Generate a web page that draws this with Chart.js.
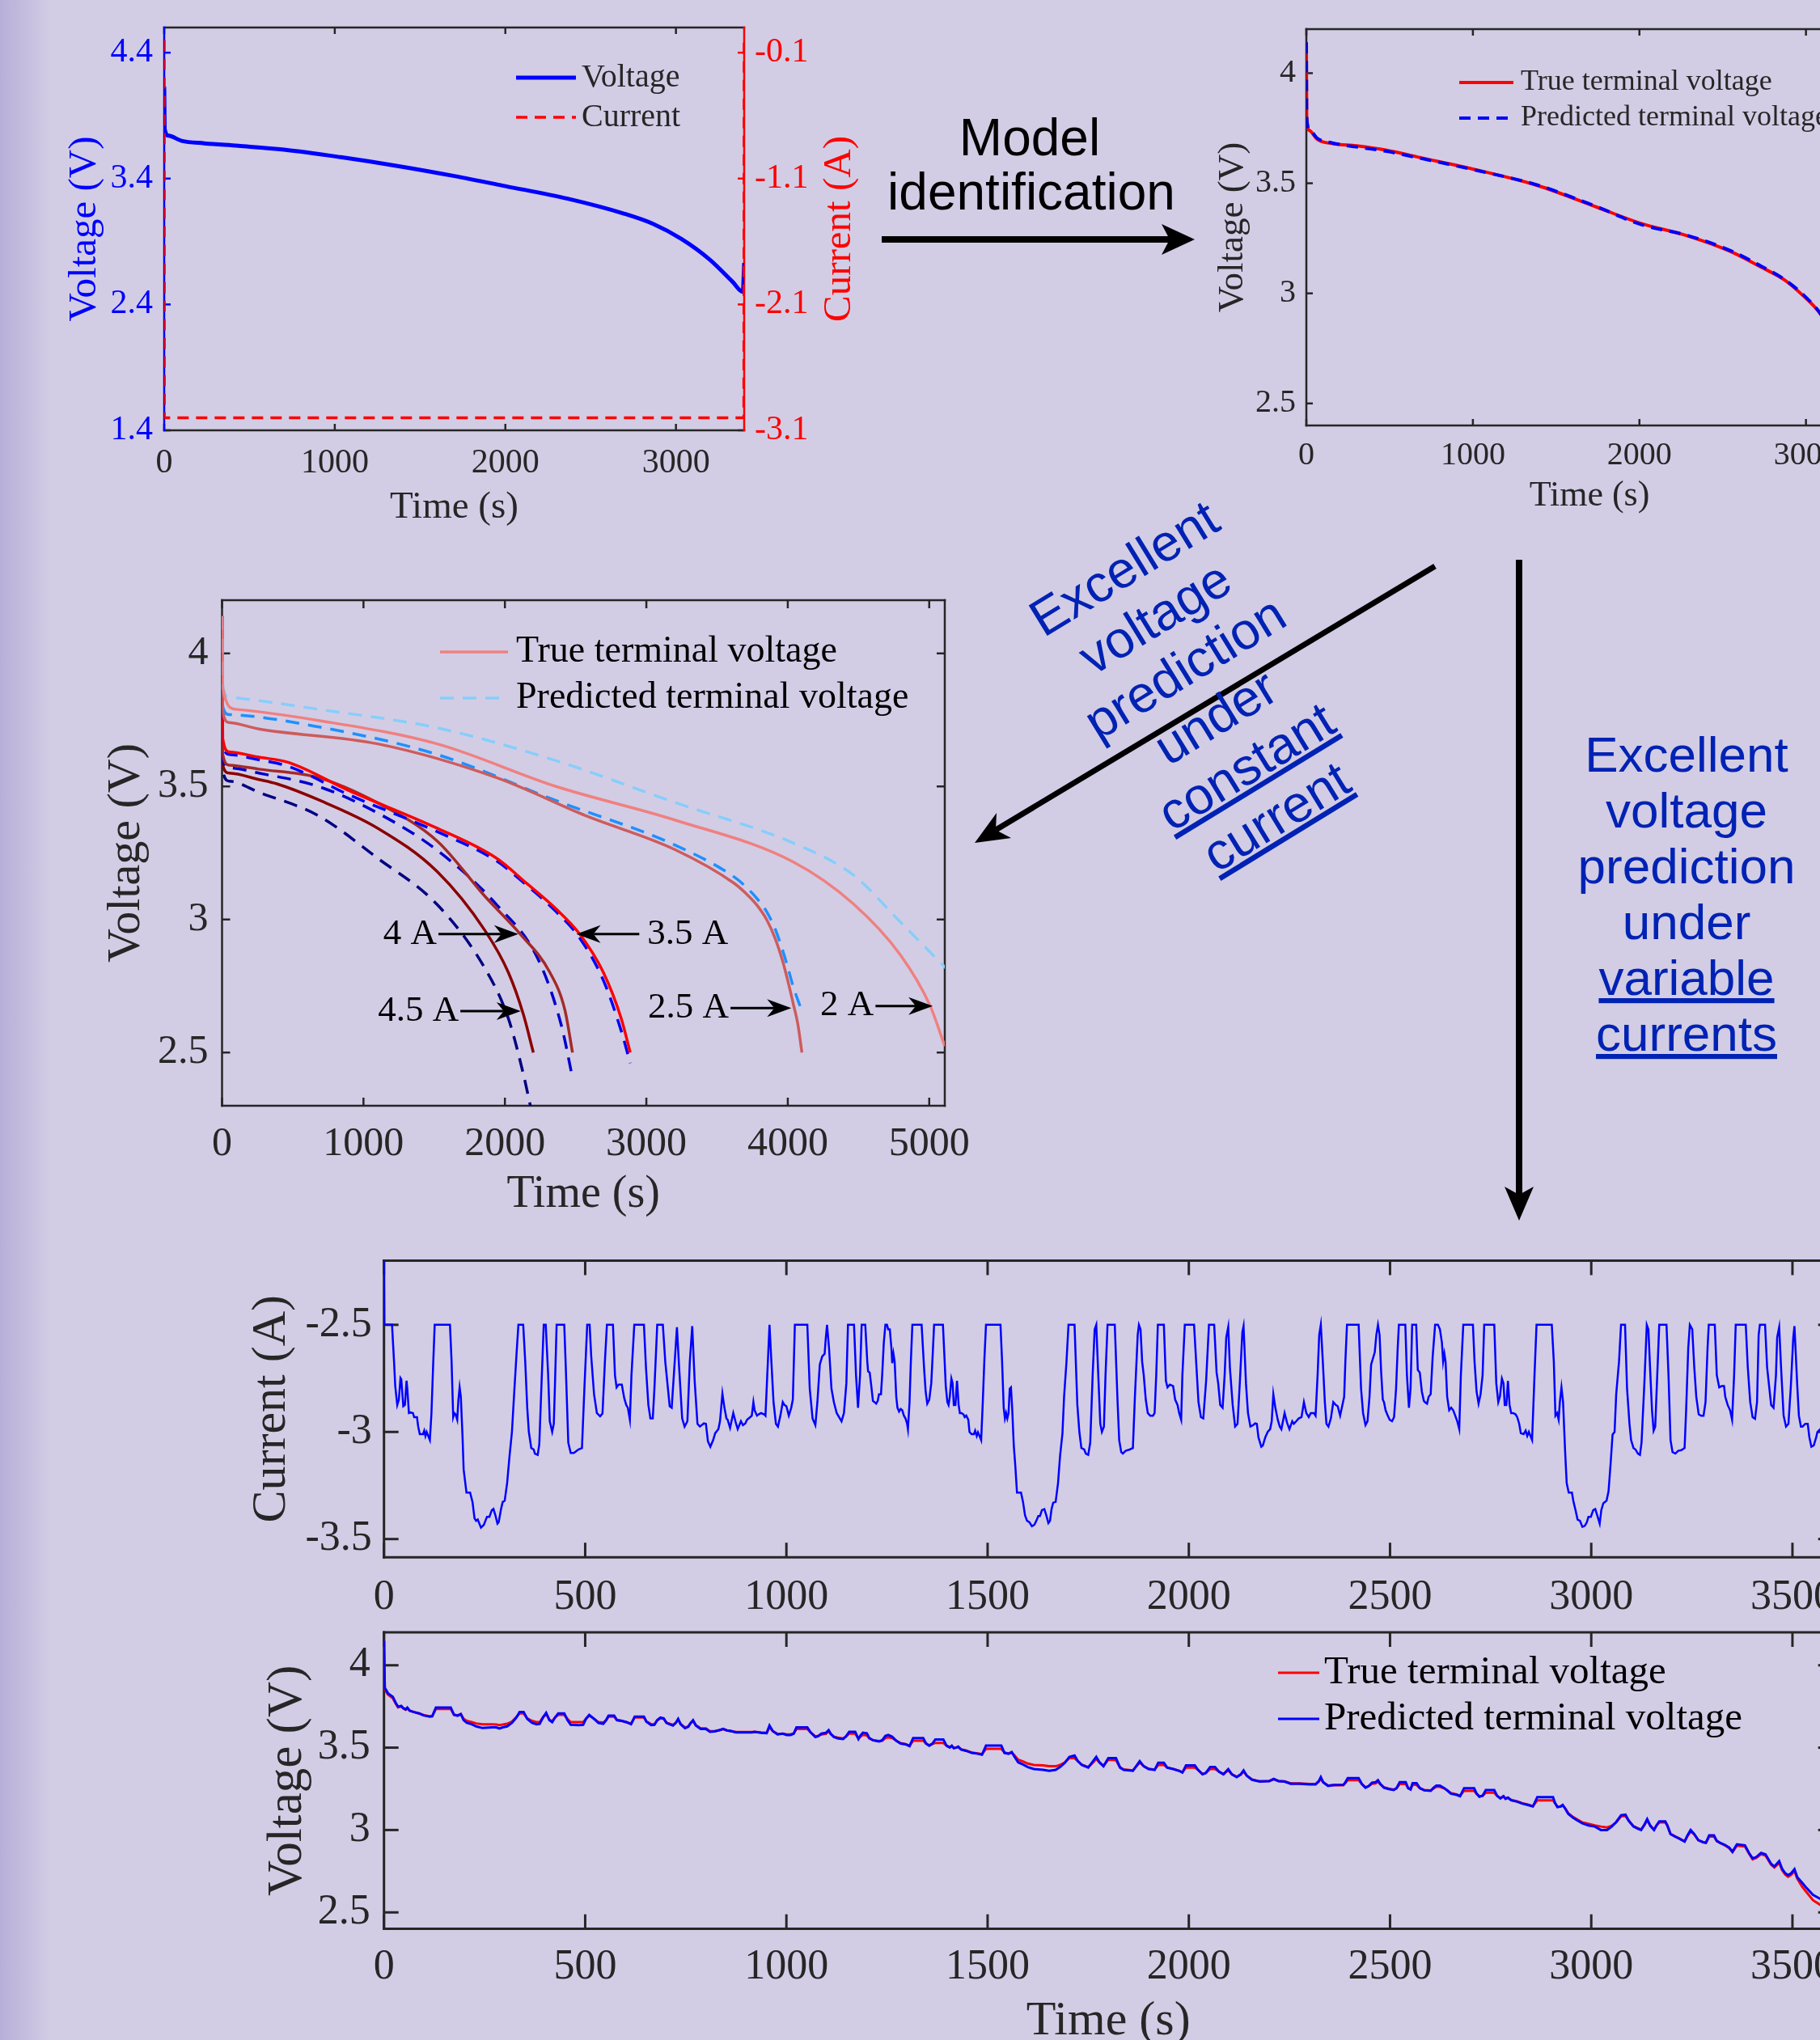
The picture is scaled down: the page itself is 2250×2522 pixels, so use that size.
<!DOCTYPE html>
<html>
<head>
<meta charset="utf-8">
<title>Battery model: identification and voltage prediction</title>
<script src="https://cdn.jsdelivr.net/npm/chart.js@4.4.1/dist/chart.umd.min.js"></script>
<style>
  html, body { margin: 0; padding: 0; width: 2250px; height: 2522px; overflow: hidden; background: #d2cde5; }
  .panel { position: absolute; }
  #strip { position: absolute; left: 0; top: 0; width: 64px; height: 2522px;
           background: linear-gradient(to right, #b8afd8, rgba(210, 205, 229, 0)); }
  #notes { position: absolute; left: 0; top: 0; }
</style>
</head>
<body>
<div id="strip"></div>
<canvas id="idChart" class="panel" width="1060" height="680" style="left:40px;top:0px"></canvas>
<canvas id="fitChart" class="panel" width="900" height="680" style="left:1440px;top:0px"></canvas>
<canvas id="ccChart" class="panel" width="1100" height="820" style="left:100px;top:700px"></canvas>
<canvas id="dynCurrentChart" class="panel" width="2000" height="470" style="left:280px;top:1530px"></canvas>
<canvas id="dynVoltChart" class="panel" width="2000" height="560" style="left:280px;top:2000px"></canvas>

<svg id="notes" width="2250" height="2522" xmlns="http://www.w3.org/2000/svg">
  <g font-family="'Liberation Sans', Arial, sans-serif" font-size="64" fill="#000" text-anchor="middle">
    <text x="1273" y="192">Model</text>
    <text x="1275" y="259">identification</text>
  </g>
  <!-- arrow: identification -> fitted model -->
  <line x1="1090" y1="296" x2="1446" y2="296" stroke="#000" stroke-width="8"/>
  <polygon points="1477,296 1436,277 1446,296 1436,315" fill="#000"/>
  <!-- arrow: towards constant current panel -->
  <line x1="1774" y1="700" x2="1231" y2="1026" stroke="#000" stroke-width="7"/>
  <polygon points="1205,1042 1250,1036 1231,1026 1232,1005" fill="#000"/>
  <!-- arrow: towards variable current panels -->
  <line x1="1878" y1="692" x2="1878" y2="1478" stroke="#000" stroke-width="8"/>
  <polygon points="1878,1509 1860,1467 1878,1477 1896,1467" fill="#000"/>

  <g font-family="'Liberation Sans', Arial, sans-serif" font-size="64" fill="#0022b4" text-anchor="middle">
    <text x="1401" y="721" transform="rotate(-31.5 1401 721)">Excellent</text>
    <text x="1439" y="782" transform="rotate(-31.5 1439 782)">voltage</text>
    <text x="1476" y="844" transform="rotate(-31.5 1476 844)">prediction</text>
    <text x="1514" y="905" transform="rotate(-31.5 1514 905)">under</text>
    <text x="1552" y="966" transform="rotate(-31.5 1552 966)" text-decoration="underline">constant</text>
    <text x="1589" y="1028" transform="rotate(-31.5 1589 1028)" text-decoration="underline">current</text>
  </g>
  <g font-family="'Liberation Sans', Arial, sans-serif" font-size="62" fill="#0022b4" text-anchor="middle">
    <text x="2085" y="954">Excellent</text>
    <text x="2085" y="1023">voltage</text>
    <text x="2085" y="1092">prediction</text>
    <text x="2085" y="1161">under</text>
    <text x="2085" y="1230" text-decoration="underline">variable</text>
    <text x="2085" y="1299" text-decoration="underline">currents</text>
  </g>
</svg>

<script>
// ---------------- data ----------------

// top left: identification test, 3 A constant discharge
const idTime = [0, 3, 27, 102, 235, 435, 702, 1035, 1368, 1701, 2000, 2365, 2699, 2866, 3032, 3199, 3332, 3392, 3400];
const idVoltage = [4.13, 3.79, 3.74, 3.70, 3.68, 3.66, 3.63, 3.57, 3.50, 3.42, 3.34, 3.24, 3.12, 3.04, 2.92, 2.755, 2.58, 2.50, 2.73];
const idCurrentTime = [0, 1, 3398, 3400];
const idCurrent = [0.0, -3.0, -3.0, 0.0];
const idLegend = ['Voltage', 'Current'];
const idTimeTicks = [0, 1000, 2000, 3000];
const idVoltTicks = [1.4, 2.4, 3.4, 4.4];
const idCurrTicks = [-3.1, -2.1, -1.1, -0.1];

// top right: fitted model on the identification test
const fitTime = [0, 2, 18, 65, 156, 301, 482, 663, 1025, 1387, 1749, 2000, 2293, 2547, 2728, 2873, 2982, 3083, 3199, 3332, 3392];
const fitTrue = [4.14, 3.80, 3.74, 3.70, 3.68, 3.67, 3.65, 3.62, 3.56, 3.49, 3.39, 3.32, 3.26, 3.19, 3.12, 3.06, 2.99, 2.91, 2.76, 2.58, 2.50];
const fitPred = [4.14, 3.80, 3.745, 3.705, 3.683, 3.665, 3.645, 3.617, 3.558, 3.492, 3.392, 3.315, 3.262, 3.194, 3.125, 3.062, 2.995, 2.912, 2.765, 2.585, 2.505];
const voltLegend = ['True terminal voltage', 'Predicted terminal voltage'];
const fitVoltTicks = [2.5, 3, 3.5, 4];

// middle: constant current discharges [time s, voltage V]
const ccLabels = ['2 A', '2.5 A', '3.5 A', '4 A', '4.5 A'];
const cc2ATrue = [[0, 4.14], [5, 3.87], [93, 3.79], [681, 3.748], [1521, 3.66], [2361, 3.5], [3201, 3.374], [4040, 3.216], [4461, 3.06], [4797, 2.866], [5007, 2.675], [5110, 2.524]];
const cc2APred = [[0, 4.14], [5, 3.88], [51, 3.836], [681, 3.79], [1521, 3.72], [2361, 3.597], [3201, 3.44], [4040, 3.287], [4461, 3.168], [4797, 2.99], [5116, 2.818]];
const cc25True = [[0, 4.14], [5, 3.78], [51, 3.74], [261, 3.716], [1101, 3.66], [1941, 3.533], [2571, 3.39], [3201, 3.263], [3621, 3.136], [3700, 3.1], [3780, 3.055], [3850, 3.0], [3910, 2.93], [3960, 2.85], [4000, 2.77], [4040, 2.68], [4070, 2.61], [4100, 2.5]];
const cc25Pred = [[0, 4.14], [5, 3.8], [51, 3.77], [681, 3.724], [1521, 3.62], [2361, 3.447], [3201, 3.28], [3621, 3.16], [3700, 3.125], [3780, 3.08], [3850, 3.03], [3910, 2.965], [3960, 2.89], [4000, 2.82], [4040, 2.745], [4090, 2.67]];
const cc35True = [[0, 4.14], [5, 3.68], [51, 3.63], [261, 3.61], [471, 3.59], [891, 3.486], [1521, 3.343], [1941, 3.23], [2151, 3.137], [2361, 3.04], [2529, 2.945], [2697, 2.8], [2823, 2.627], [2886, 2.5]];
const cc35Pred = [[0, 4.14], [5, 3.66], [51, 3.62], [261, 3.6], [471, 3.575], [891, 3.47], [1521, 3.33], [1941, 3.22], [2151, 3.13], [2361, 3.03], [2529, 2.93], [2697, 2.77], [2823, 2.58], [2886, 2.46]];
const cc4True = [[0, 4.14], [5, 3.62], [51, 3.58], [261, 3.565], [681, 3.533], [1101, 3.438], [1521, 3.295], [1857, 3.088], [2109, 2.945], [2319, 2.8], [2424, 2.66], [2478, 2.5]];
const cc4Pred = [[0, 4.14], [5, 3.6], [51, 3.57], [261, 3.55], [681, 3.5], [1101, 3.4], [1521, 3.26], [1941, 3.056], [2235, 2.85], [2400, 2.6], [2478, 2.405]];
const cc45True = [[0, 4.14], [5, 3.58], [51, 3.55], [261, 3.526], [387, 3.51], [681, 3.45], [1101, 3.343], [1521, 3.18], [1857, 2.96], [2025, 2.8], [2130, 2.644], [2201, 2.5]];
const cc45Pred = [[0, 4.14], [5, 3.56], [51, 3.52], [261, 3.478], [681, 3.39], [1101, 3.23], [1521, 3.056], [1857, 2.818], [2025, 2.627], [2130, 2.42], [2180, 2.3]];
const ccTimeTicks = [0, 1000, 2000, 3000, 4000, 5000];
const ccVoltTicks = [2.5, 3, 3.5, 4];

// bottom: dynamic (variable current) test, current [time s, current A]
const dynCurrent = [
  [0, -2.2], [1, -2.5], [20, -2.5], [25, -2.672], [28, -2.786], [33, -2.874], [37, -2.849], [41, -2.748], [43, -2.754], [48, -2.88],
  [52, -2.874], [56, -2.761], [58, -2.798], [62, -2.912], [66, -2.909], [72, -2.912], [75, -2.931], [82, -2.931], [85, -2.975], [89, -3.01],
  [97, -3.01], [100, -2.994], [103, -3.019], [106, -3.0], [110, -3.019], [114, -3.038], [118, -2.912], [122, -2.698], [126, -2.5], [164, -2.5],
  [168, -2.672], [172, -2.931], [175, -2.912], [178, -2.918], [182, -2.943], [185, -2.849], [188, -2.792], [191, -2.836], [195, -3.012], [198, -3.176],
  [205, -3.283], [214, -3.283], [220, -3.327], [225, -3.403], [229, -3.415], [233, -3.409], [241, -3.447], [248, -3.434], [256, -3.396], [262, -3.396],
  [268, -3.365], [272, -3.359], [277, -3.39], [282, -3.428], [285, -3.422], [291, -3.359], [295, -3.327], [300, -3.321], [306, -3.239], [312, -3.113],
  [318, -3.0], [323, -2.836], [329, -2.647], [334, -2.5], [346, -2.5], [351, -2.672], [356, -2.887], [360, -3.0], [366, -3.075], [372, -3.082],
  [375, -3.101], [382, -3.107], [386, -3.056], [391, -2.798], [397, -2.5], [402, -2.5], [408, -2.735], [412, -2.95], [418, -3.0], [422, -2.962],
  [425, -2.773], [429, -2.5], [448, -2.5], [452, -2.71], [458, -3.05], [464, -3.098], [472, -3.098], [483, -3.082], [492, -3.075], [498, -2.798],
  [505, -2.5], [511, -2.5], [515, -2.647], [522, -2.824], [529, -2.912], [537, -2.927], [543, -2.914], [549, -2.672], [554, -2.5], [569, -2.5],
  [574, -2.735], [578, -2.792], [583, -2.779], [591, -2.779], [597, -2.842], [602, -2.874], [606, -2.887], [611, -2.943], [615, -2.735], [622, -2.5],
  [646, -2.5], [651, -2.698], [657, -2.874], [662, -2.937], [668, -2.937], [672, -2.798], [679, -2.5], [693, -2.5], [699, -2.672], [705, -2.786],
  [710, -2.88], [715, -2.887], [722, -2.685], [728, -2.511], [733, -2.685], [741, -2.937], [747, -2.975], [754, -2.95], [760, -2.672], [766, -2.506],
  [772, -2.761], [779, -2.962], [785, -2.975], [795, -2.96], [800, -2.962], [805, -3.044], [811, -3.069], [818, -3.038], [823, -3.006], [831, -2.987],
  [835, -2.95], [841, -2.821], [846, -2.887], [851, -2.937], [854, -2.943], [860, -2.981], [868, -2.912], [875, -2.962], [879, -2.987], [887, -2.95],
  [892, -2.968], [898, -2.96], [902, -2.943], [910, -2.931], [914, -2.924], [918, -2.861], [921, -2.899], [927, -2.924], [931, -2.918], [937, -2.912],
  [945, -2.918], [948, -2.924], [958, -2.5], [962, -2.647], [968, -2.861], [974, -2.962], [979, -2.975], [985, -2.924], [991, -2.861], [995, -2.874],
  [1000, -2.88], [1006, -2.924], [1012, -2.887], [1016, -2.849], [1021, -2.5], [1052, -2.5], [1058, -2.798], [1065, -2.937], [1072, -2.968], [1077, -2.861],
  [1083, -2.685], [1089, -2.647], [1095, -2.635], [1098, -2.559], [1101, -2.5], [1106, -2.61], [1112, -2.798], [1118, -2.861], [1125, -2.912], [1137, -2.95],
  [1143, -2.912], [1149, -2.773], [1153, -2.5], [1168, -2.5], [1173, -2.735], [1178, -2.887], [1183, -2.735], [1187, -2.5],
  [1196, -2.5], [1201, -2.672], [1203, -2.717], [1207, -2.723], [1211, -2.786], [1215, -2.855], [1219, -2.861], [1223, -2.868], [1227, -2.855], [1230, -2.824],
  [1235, -2.824], [1238, -2.735], [1242, -2.584], [1246, -2.5], [1250, -2.5], [1253, -2.521], [1257, -2.521], [1261, -2.61], [1263, -2.679], [1266, -2.635],
  [1269, -2.672], [1273, -2.836], [1276, -2.887], [1280, -2.905], [1284, -2.893], [1288, -2.899], [1292, -2.924], [1296, -2.937], [1300, -2.962], [1302, -2.987],
  [1306, -2.861], [1309, -2.685], [1313, -2.5], [1336, -2.5], [1342, -2.698], [1346, -2.811], [1350, -2.868], [1355, -2.849], [1360, -2.773], [1363, -2.66],
  [1367, -2.5], [1389, -2.5], [1393, -2.66], [1396, -2.786], [1400, -2.861], [1403, -2.874], [1406, -2.836], [1410, -2.751], [1413, -2.773], [1416, -2.874],
  [1420, -2.874], [1424, -2.761], [1428, -2.874], [1431, -2.912], [1435, -2.912], [1440, -2.918], [1443, -2.931], [1447, -2.924], [1452, -2.943], [1455, -3.0],
  [1460, -3.01], [1466, -3.01], [1469, -2.994], [1473, -3.019], [1476, -3.002], [1480, -3.019], [1484, -3.038], [1488, -2.861], [1492, -2.66], [1496, -2.5],
  [1532, -2.5], [1536, -2.672], [1540, -2.887], [1543, -2.937], [1546, -2.912], [1549, -2.937], [1552, -2.912], [1555, -2.798], [1558, -2.792], [1561, -2.887],
  [1565, -3.063], [1569, -3.163], [1573, -3.283], [1583, -3.283], [1588, -3.327], [1593, -3.39], [1598, -3.415], [1604, -3.422], [1610, -3.44], [1616, -3.434],
  [1621, -3.415], [1626, -3.393], [1630, -3.393], [1635, -3.365], [1641, -3.36], [1646, -3.39], [1651, -3.425], [1655, -3.415], [1659, -3.359], [1663, -3.33],
  [1669, -3.327], [1675, -3.239], [1680, -3.113], [1686, -3.006], [1690, -2.836], [1696, -2.672], [1701, -2.5], [1716, -2.5], [1723, -2.874], [1728, -3.0],
  [1733, -3.075], [1740, -3.082], [1744, -3.101], [1750, -3.107], [1755, -3.05], [1761, -2.735], [1766, -2.521], [1770, -2.5], [1775, -2.735], [1780, -2.962],
  [1784, -3.0], [1789, -2.975], [1793, -2.735], [1798, -2.5], [1816, -2.5], [1823, -2.861], [1827, -3.038], [1832, -3.094], [1836, -3.101], [1843, -3.088],
  [1853, -3.082], [1861, -3.075], [1866, -2.836], [1873, -2.547], [1876, -2.5], [1880, -2.521], [1884, -2.672], [1888, -2.735], [1893, -2.849], [1898, -2.912],
  [1904, -2.924], [1911, -2.924], [1915, -2.912], [1919, -2.735], [1923, -2.5], [1938, -2.5], [1943, -2.761], [1947, -2.792], [1953, -2.779], [1961, -2.786],
  [1966, -2.849], [1972, -2.874], [1976, -2.912], [1981, -2.943], [1984, -2.735], [1990, -2.5], [2013, -2.5], [2019, -2.698], [2024, -2.861], [2030, -2.931],
  [2036, -2.937], [2043, -2.761], [2050, -2.5], [2063, -2.5], [2069, -2.723], [2073, -2.773], [2078, -2.874], [2084, -2.887], [2089, -2.735], [2093, -2.559],
  [2098, -2.509], [2102, -2.698], [2109, -2.874], [2115, -2.975], [2121, -2.962], [2127, -2.761], [2133, -2.534], [2136, -2.506], [2142, -2.773], [2147, -2.912],
  [2153, -2.975], [2160, -2.968], [2165, -2.96], [2169, -2.962], [2173, -3.025], [2180, -3.069], [2184, -3.063], [2190, -3.025], [2196, -3.0], [2202, -2.987],
  [2206, -2.95], [2210, -2.824], [2215, -2.887], [2221, -2.943], [2226, -2.975], [2230, -2.987], [2238, -2.912], [2244, -2.956], [2250, -2.987], [2257, -2.95],
  [2261, -2.962], [2267, -2.95], [2273, -2.937], [2280, -2.931], [2286, -2.861], [2292, -2.912], [2298, -2.931], [2303, -2.912], [2311, -2.912], [2315, -2.924],
  [2320, -2.735], [2324, -2.547], [2328, -2.5], [2333, -2.672], [2338, -2.861], [2342, -2.962], [2347, -2.975], [2353, -2.937], [2359, -2.861], [2365, -2.874],
  [2370, -2.88], [2376, -2.924],
  [2386, -2.836], [2389, -2.672], [2393, -2.5], [2422, -2.5], [2428, -2.798], [2433, -2.912], [2439, -2.968], [2444, -2.95], [2449, -2.836], [2453, -2.685],
  [2459, -2.647], [2462, -2.628], [2466, -2.547], [2470, -2.5], [2474, -2.547], [2478, -2.723], [2482, -2.849], [2485, -2.861], [2489, -2.899], [2493, -2.918],
  [2499, -2.943], [2505, -2.95], [2510, -2.931], [2515, -2.798], [2519, -2.61], [2522, -2.5], [2538, -2.5], [2542, -2.735], [2547, -2.887], [2551, -2.798],
  [2555, -2.5], [2565, -2.5], [2569, -2.71], [2574, -2.723], [2579, -2.811], [2584, -2.855], [2587, -2.861], [2592, -2.868], [2596, -2.836], [2601, -2.824],
  [2606, -2.647], [2612, -2.5], [2619, -2.5], [2624, -2.521], [2629, -2.584], [2632, -2.672], [2635, -2.635], [2638, -2.672], [2642, -2.836], [2647, -2.899],
  [2652, -2.887], [2657, -2.899], [2662, -2.924], [2667, -2.95], [2672, -2.987], [2676, -2.735], [2682, -2.5], [2706, -2.5], [2710, -2.672], [2715, -2.811],
  [2720, -2.868], [2725, -2.824], [2730, -2.735], [2734, -2.5], [2759, -2.5], [2764, -2.773], [2769, -2.861], [2773, -2.836], [2778, -2.751], [2782, -2.773],
  [2785, -2.874], [2789, -2.874], [2793, -2.761], [2797, -2.874], [2801, -2.912], [2806, -2.912], [2812, -2.918], [2816, -2.931], [2821, -2.962], [2825, -3.006],
  [2832, -3.01], [2837, -2.994], [2841, -3.019], [2845, -3.0], [2849, -3.019], [2853, -3.038], [2859, -2.735], [2864, -2.5], [2902, -2.5], [2907, -2.672],
  [2911, -2.924], [2915, -2.912], [2919, -2.943], [2922, -2.861], [2926, -2.792], [2930, -2.861], [2935, -3.088], [2939, -3.239], [2944, -3.283], [2952, -3.283],
  [2956, -3.327], [2961, -3.365], [2966, -3.409], [2972, -3.415], [2978, -3.443], [2984, -3.438], [2989, -3.422], [2993, -3.396], [2999, -3.396], [3005, -3.365],
  [3010, -3.36], [3015, -3.39], [3021, -3.428], [3025, -3.365], [3030, -3.333], [3038, -3.321], [3043, -3.277], [3048, -3.151], [3053, -3.012], [3058, -3.0],
  [3062, -2.824], [3069, -2.672], [3074, -2.5], [3084, -2.5], [3089, -2.798], [3095, -2.962], [3099, -3.038], [3105, -3.075], [3110, -3.082], [3116, -3.101],
  [3121, -3.107], [3125, -3.05], [3132, -2.773], [3138, -2.5], [3142, -2.521], [3147, -2.735], [3151, -2.899], [3155, -2.994], [3159, -2.975], [3164, -2.735],
  [3169, -2.5], [3187, -2.5], [3192, -2.735], [3197, -3.038], [3202, -3.094], [3209, -3.101], [3216, -3.088], [3224, -3.085], [3232, -3.075], [3236, -2.887],
  [3241, -2.61], [3245, -2.5], [3251, -2.521], [3256, -2.698], [3261, -2.836], [3267, -2.918], [3273, -2.924], [3279, -2.924], [3284, -2.861], [3289, -2.61],
  [3292, -2.5], [3307, -2.5], [3312, -2.735], [3318, -2.792], [3324, -2.786], [3330, -2.786], [3333, -2.836], [3339, -2.874], [3345, -2.899], [3350, -2.943],
  [3355, -2.735], [3359, -2.5], [3384, -2.5], [3389, -2.698], [3395, -2.861], [3401, -2.931], [3407, -2.939], [3412, -2.861], [3416, -2.547], [3419, -2.5],
  [3432, -2.5], [3437, -2.698], [3442, -2.786], [3447, -2.874], [3453, -2.887], [3459, -2.735], [3462, -2.559], [3467, -2.511], [3472, -2.71], [3478, -2.924],
  [3484, -2.975], [3490, -2.962], [3496, -2.786], [3502, -2.559], [3505, -2.506], [3512, -2.786], [3516, -2.924], [3521, -2.975], [3525, -2.975], [3532, -2.962],
  [3538, -2.962], [3542, -3.025], [3547, -3.069], [3553, -3.063], [3559, -3.025], [3562, -3.0], [3569, -2.987], [3590, -2.95]
];
const dynCurrTicks = [-3.5, -3, -2.5];
const dynTimeTicks = [0, 500, 1000, 1500, 2000, 2500, 3000, 3500];

// bottom: dynamic test, terminal voltage (rows of ten share the same times)
const dynVoltTime = [
  0, 2, 10, 22, 29, 35, 43, 48, 54, 58,
  64, 75, 87, 98, 114, 120, 129, 166, 174, 183,
  191, 198, 206, 218, 229, 245, 268, 279, 287, 295,
  306, 318, 329, 337, 347, 356, 368, 379, 387, 395,
  403, 411, 418, 425, 433, 448, 456, 464, 483, 495,
  502, 510, 522, 533, 545, 552, 558, 572, 579, 591,
  602, 614, 623, 646, 652, 664, 672, 679, 687, 695,
  702, 718, 725, 731, 737, 748, 756, 762, 768, 775,
  787, 800, 810, 822, 833, 843, 852, 864, 875, 895,
  914, 921, 937, 951, 958, 966, 978, 991, 1001, 1010,
  1018, 1025, 1052, 1060, 1072, 1079, 1087, 1098, 1105, 1110,
  1118, 1129, 1141, 1148, 1156, 1171, 1179, 1184, 1190, 1200,
  1206, 1215, 1230, 1238, 1246, 1253, 1263, 1273, 1284, 1296,
  1306, 1315, 1340, 1347, 1355, 1363, 1370, 1390, 1398, 1406,
  1411, 1416, 1423, 1427, 1434, 1446, 1461, 1476, 1486, 1496,
  1534, 1542, 1552, 1560, 1567, 1576, 1588, 1600, 1615, 1638,
  1653, 1669, 1680, 1692, 1703, 1716, 1724, 1734, 1750, 1760,
  1770, 1778, 1788, 1800, 1819, 1829, 1838, 1861, 1869, 1878,
  1888, 1900, 1915, 1924, 1938, 1946, 1961, 1976, 1984, 1993,
  2015, 2023, 2034, 2042, 2053, 2065, 2075, 2086, 2098, 2107,
  2119, 2129, 2136, 2144, 2157, 2176, 2200, 2211, 2223, 2238,
  2253, 2276, 2300, 2315, 2323, 2328, 2334, 2346, 2361, 2384,
  2389, 2395, 2422, 2430, 2439, 2447, 2455, 2464, 2470, 2476,
  2485, 2497, 2509, 2516, 2524, 2539, 2545, 2551, 2556, 2566,
  2574, 2585, 2601, 2607, 2615, 2624, 2635, 2643, 2651, 2666,
  2674, 2684, 2709, 2715, 2722, 2730, 2738, 2759, 2766, 2774,
  2782, 2787, 2793, 2801, 2816, 2828, 2843, 2855, 2866, 2905,
  2910, 2916, 2924, 2929, 2935, 2943, 2955, 2966, 2978, 2993,
  3009, 3024, 3039, 3051, 3062, 3074, 3085, 3093, 3105, 3116,
  3124, 3132, 3139, 3147, 3156, 3162, 3169, 3184, 3189, 3197,
  3209, 3220, 3232, 3239, 3247, 3256, 3266, 3278, 3285, 3293,
  3305, 3312, 3320, 3332, 3343, 3351, 3362, 3382, 3392, 3401,
  3410, 3422, 3433, 3439, 3447, 3455, 3461, 3467, 3474, 3482,
  3489, 3497, 3505, 3512, 3524, 3535, 3551, 3569, 3590
];
const dynVoltTrue = [
  4.15, 3.855, 3.822, 3.8, 3.768, 3.745, 3.75, 3.738, 3.73, 3.738,
  3.724, 3.716, 3.708, 3.698, 3.69, 3.69, 3.735, 3.735, 3.7, 3.696,
  3.704, 3.675, 3.662, 3.655, 3.647, 3.642, 3.642, 3.64, 3.637, 3.64,
  3.645, 3.658, 3.686, 3.708, 3.708, 3.678, 3.662, 3.655, 3.655, 3.683,
  3.705, 3.67, 3.66, 3.683, 3.699, 3.699, 3.675, 3.655, 3.655, 3.655,
  3.675, 3.695, 3.675, 3.655, 3.652, 3.667, 3.688, 3.688, 3.667, 3.662,
  3.655, 3.645, 3.683, 3.683, 3.66, 3.642, 3.642, 3.665, 3.678, 3.675,
  3.652, 3.638, 3.65, 3.67, 3.645, 3.622, 3.628, 3.648, 3.662, 3.636,
  3.617, 3.617, 3.6, 3.601, 3.606, 3.612, 3.605, 3.6, 3.595, 3.595,
  3.595, 3.596, 3.592, 3.59, 3.625, 3.6, 3.583, 3.585, 3.58, 3.58,
  3.585, 3.613, 3.613, 3.593, 3.568, 3.572, 3.58, 3.583, 3.6, 3.583,
  3.567, 3.56, 3.556, 3.566, 3.585, 3.585, 3.555, 3.566, 3.577, 3.574,
  3.556, 3.545, 3.54, 3.542, 3.558, 3.563, 3.558, 3.542, 3.527, 3.522,
  3.512, 3.542, 3.542, 3.525, 3.514, 3.522, 3.529, 3.529, 3.512, 3.503,
  3.51, 3.498, 3.502, 3.505, 3.49, 3.483, 3.47, 3.465, 3.46, 3.493,
  3.493, 3.47, 3.465, 3.47, 3.452, 3.427, 3.416, 3.403, 3.395, 3.392,
  3.387, 3.387, 3.395, 3.411, 3.436, 3.436, 3.419, 3.397, 3.382, 3.405,
  3.432, 3.41, 3.389, 3.427, 3.424, 3.381, 3.368, 3.362, 3.385, 3.41,
  3.387, 3.372, 3.367, 3.395, 3.395, 3.379, 3.371, 3.36, 3.35, 3.379,
  3.379, 3.365, 3.34, 3.346, 3.37, 3.37, 3.354, 3.34, 3.362, 3.338,
  3.323, 3.336, 3.355, 3.33, 3.307, 3.296, 3.298, 3.307, 3.298, 3.295,
  3.283, 3.283, 3.279, 3.279, 3.293, 3.312, 3.29, 3.27, 3.273, 3.272,
  3.285, 3.303, 3.303, 3.279, 3.259, 3.266, 3.28, 3.283, 3.293, 3.277,
  3.259, 3.251, 3.245, 3.252, 3.279, 3.279, 3.254, 3.248, 3.274, 3.274,
  3.254, 3.243, 3.24, 3.25, 3.262, 3.262, 3.252, 3.24, 3.224, 3.216,
  3.208, 3.238, 3.238, 3.221, 3.204, 3.208, 3.226, 3.226, 3.208, 3.194,
  3.203, 3.19, 3.196, 3.182, 3.174, 3.163, 3.154, 3.145, 3.18, 3.18,
  3.164, 3.141, 3.143, 3.15, 3.133, 3.102, 3.079, 3.063, 3.046, 3.038,
  3.028, 3.021, 3.016, 3.026, 3.047, 3.083, 3.086, 3.057, 3.023, 3.011,
  3.004, 3.03, 3.058, 3.026, 3.004, 3.026, 3.046, 3.046, 3.028, 2.977,
  2.961, 2.948, 2.931, 2.962, 2.992, 2.973, 2.938, 2.925, 2.922, 2.96,
  2.96, 2.933, 2.921, 2.907, 2.889, 2.866, 2.905, 2.9, 2.857, 2.822,
  2.83, 2.853, 2.845, 2.822, 2.789, 2.772, 2.786, 2.802, 2.758, 2.73,
  2.716, 2.728, 2.752, 2.705, 2.656, 2.623, 2.574, 2.546, 2.515
];
const dynVoltPred = [
  4.15, 3.863, 3.83, 3.809, 3.773, 3.748, 3.753, 3.74, 3.732, 3.743,
  3.724, 3.716, 3.708, 3.696, 3.688, 3.691, 3.743, 3.743, 3.699, 3.694,
  3.704, 3.667, 3.65, 3.642, 3.629, 3.619, 3.623, 3.623, 3.616, 3.623,
  3.629, 3.65, 3.683, 3.716, 3.716, 3.675, 3.65, 3.642, 3.645, 3.683,
  3.711, 3.667, 3.655, 3.683, 3.708, 3.708, 3.667, 3.639, 3.636, 3.639,
  3.675, 3.699, 3.675, 3.65, 3.645, 3.667, 3.694, 3.694, 3.667, 3.662,
  3.655, 3.642, 3.688, 3.688, 3.658, 3.637, 3.639, 3.667, 3.683, 3.678,
  3.65, 3.634, 3.65, 3.675, 3.642, 3.618, 3.626, 3.65, 3.667, 3.634,
  3.613, 3.613, 3.596, 3.598, 3.606, 3.614, 3.605, 3.6, 3.593, 3.593,
  3.593, 3.596, 3.59, 3.588, 3.634, 3.601, 3.58, 3.585, 3.577, 3.577,
  3.585, 3.623, 3.623, 3.593, 3.564, 3.569, 3.585, 3.59, 3.606, 3.585,
  3.564, 3.556, 3.552, 3.569, 3.596, 3.596, 3.552, 3.574, 3.591, 3.587,
  3.558, 3.545, 3.538, 3.545, 3.571, 3.577, 3.566, 3.542, 3.525, 3.52,
  3.509, 3.558, 3.558, 3.525, 3.512, 3.525, 3.55, 3.55, 3.512, 3.501,
  3.512, 3.496, 3.501, 3.506, 3.488, 3.481, 3.468, 3.463, 3.457, 3.512,
  3.512, 3.468, 3.463, 3.473, 3.444, 3.411, 3.398, 3.382, 3.37, 3.365,
  3.359, 3.365, 3.382, 3.408, 3.444, 3.452, 3.419, 3.395, 3.379, 3.411,
  3.444, 3.411, 3.387, 3.436, 3.436, 3.379, 3.365, 3.359, 3.387, 3.418,
  3.387, 3.37, 3.365, 3.408, 3.408, 3.379, 3.37, 3.359, 3.349, 3.392,
  3.392, 3.365, 3.338, 3.346, 3.382, 3.382, 3.354, 3.338, 3.37, 3.338,
  3.321, 3.338, 3.362, 3.33, 3.305, 3.294, 3.297, 3.31, 3.297, 3.294,
  3.281, 3.281, 3.277, 3.277, 3.297, 3.321, 3.289, 3.268, 3.273, 3.274,
  3.29, 3.315, 3.315, 3.279, 3.257, 3.267, 3.287, 3.29, 3.303, 3.279,
  3.257, 3.249, 3.243, 3.254, 3.29, 3.29, 3.254, 3.246, 3.284, 3.284,
  3.254, 3.241, 3.238, 3.254, 3.27, 3.27, 3.254, 3.238, 3.221, 3.213,
  3.205, 3.254, 3.254, 3.221, 3.202, 3.208, 3.243, 3.243, 3.208, 3.192,
  3.205, 3.189, 3.197, 3.18, 3.172, 3.161, 3.152, 3.143, 3.2, 3.2,
  3.164, 3.139, 3.143, 3.152, 3.131, 3.098, 3.074, 3.057, 3.041, 3.028,
  3.021, 3.0, 3.0, 3.021, 3.049, 3.09, 3.093, 3.057, 3.021, 3.008,
  3.0, 3.033, 3.066, 3.025, 3.0, 3.028, 3.052, 3.052, 3.028, 2.975,
  2.959, 2.946, 2.93, 2.967, 3.0, 2.975, 2.939, 2.926, 2.923, 2.967,
  2.967, 2.934, 2.923, 2.91, 2.893, 2.869, 2.913, 2.907, 2.861, 2.828,
  2.836, 2.861, 2.852, 2.828, 2.795, 2.779, 2.795, 2.811, 2.766, 2.738,
  2.726, 2.738, 2.762, 2.713, 2.68, 2.648, 2.607, 2.582, 2.555
];
const dynVoltTicks = [2.5, 3, 3.5, 4];

// ---------------- helpers ----------------
const SERIF = "'Liberation Serif', 'Times New Roman', serif";
const INK = '#262626';
Chart.defaults.animation = false;
Chart.defaults.font.family = SERIF;
Chart.defaults.color = INK;

function zip(xs, ys) { return xs.map((x, i) => ({x: x, y: ys[i]})); }
function xy(pairs) { return pairs.map(p => ({x: p[0], y: p[1]})); }

// linear axis with a fixed tick list and a fixed box size (MATLAB-like layout)
function axis(o) {
  const s = {
    type: 'linear', position: o.position, min: o.min, max: o.max,
    grid: {display: false, drawTicks: false},
    border: {display: false},
    ticks: {
      color: o.color || INK, padding: o.pad, autoSkip: false, maxRotation: 0, minRotation: 0,
      font: {family: SERIF, size: o.fontSize},
      callback: v => String(Math.round(v * 10) / 10)
    },
    afterBuildTicks: sc => { sc.ticks = o.ticks.map(v => ({value: v})); },
    afterFit: sc => {
      if (o.position === 'bottom') { sc.height = o.size; sc.paddingLeft = 0; sc.paddingRight = 0; }
      else { sc.width = o.size; sc.paddingTop = 0; sc.paddingBottom = 0; }
    }
  };
  if (o.title) {
    s.title = {display: true, text: o.title, color: o.titleColor || INK,
               font: {family: SERIF, size: o.titleSize}, padding: o.titlePad};
  }
  return s;
}

function line(data, color, width, extra) {
  return Object.assign({data: data, borderColor: color, backgroundColor: color, borderWidth: width,
                        pointRadius: 0, tension: 0, fill: false}, extra || {});
}

// box + inward ticks on all four sides
const matlabBox = {
  id: 'matlabBox',
  beforeDatasetsDraw(chart, args, o) {
    const {ctx, chartArea: a, scales} = chart;
    const xs = scales.x, yl = scales.y, yr = scales[o.rightScale || 'y'];
    const seg = (x1, y1, x2, y2, c) => { ctx.strokeStyle = c; ctx.beginPath(); ctx.moveTo(x1, y1); ctx.lineTo(x2, y2); ctx.stroke(); };
    const lc = o.leftColor || o.color, rc = o.rightColor || o.color;
    ctx.save();
    ctx.lineWidth = o.lineWidth;
    xs.ticks.forEach(t => {
      const p = xs.getPixelForValue(t.value);
      seg(p, a.bottom, p, a.bottom - o.tickLen, o.color);
      seg(p, a.top, p, a.top + o.tickLen, o.color);
    });
    yl.ticks.forEach(t => { const p = yl.getPixelForValue(t.value); seg(a.left, p, a.left + o.tickLen, p, lc); });
    yr.ticks.forEach(t => { const p = yr.getPixelForValue(t.value); seg(a.right, p, a.right - o.tickLen, p, rc); });
    ctx.lineCap = 'square';
    seg(a.left, a.top, a.right, a.top, o.color);
    seg(a.left, a.bottom, a.right, a.bottom, o.color);
    seg(a.left, a.top, a.left, a.bottom, lc);
    seg(a.right, a.top, a.right, a.bottom, rc);
    ctx.restore();
  }
};

// legend drawn inside the axes
const legendBox = {
  id: 'legendBox',
  afterDatasetsDraw(chart, args, o) {
    if (!o.items) return;
    const ctx = chart.ctx;
    ctx.save();
    ctx.font = o.font;
    ctx.textBaseline = 'middle';
    ctx.textAlign = 'left';
    o.items.forEach((it, i) => {
      const ds = chart.data.datasets[it.ds];
      const y = o.y + i * o.rowHeight;
      ctx.strokeStyle = ds.borderColor;
      ctx.lineWidth = ds.borderWidth;
      ctx.setLineDash(ds.borderDash || []);
      ctx.beginPath(); ctx.moveTo(o.x, y); ctx.lineTo(o.x + o.lineLength, y); ctx.stroke();
      ctx.setLineDash([]);
      ctx.fillStyle = o.color || '#000';
      ctx.fillText(it.text, o.x + o.lineLength + o.gap, y);
    });
    ctx.restore();
  }
};

// rotated title for the right-hand axis (reads bottom to top)
const sideTitle = {
  id: 'sideTitle',
  afterDraw(chart, args, o) {
    if (!o.text) return;
    const ctx = chart.ctx;
    ctx.save();
    ctx.translate(o.x, o.y);
    ctx.rotate(-Math.PI / 2);
    ctx.font = o.font;
    ctx.fillStyle = o.color;
    ctx.textAlign = 'center';
    ctx.textBaseline = 'middle';
    ctx.fillText(o.text, 0, 0);
    ctx.restore();
  }
};

// "4 A ->" style tags pointing at curves
const currentTags = {
  id: 'currentTags',
  afterDatasetsDraw(chart, args, o) {
    if (!o.items) return;
    const {ctx, scales: {x, y}} = chart;
    ctx.save();
    ctx.font = o.font;
    ctx.fillStyle = o.color; ctx.strokeStyle = o.color; ctx.lineWidth = o.lineWidth;
    ctx.textBaseline = 'middle';
    o.items.forEach(it => {
      const py = y.getPixelForValue(it.v), x0 = x.getPixelForValue(it.tail), x1 = x.getPixelForValue(it.tip);
      const dir = Math.sign(x1 - x0);
      ctx.beginPath(); ctx.moveTo(x0, py); ctx.lineTo(x1 - dir * o.head * 0.7, py); ctx.stroke();
      ctx.beginPath();
      ctx.moveTo(x1, py);
      ctx.lineTo(x1 - dir * o.head, py - o.half);
      ctx.lineTo(x1 - dir * o.head * 0.7, py);
      ctx.lineTo(x1 - dir * o.head, py + o.half);
      ctx.closePath(); ctx.fill();
      ctx.textAlign = dir > 0 ? 'right' : 'left';
      ctx.fillText(it.label, x0 - dir * (it.gap || o.gap), py);
    });
    ctx.restore();
  }
};

Chart.register(matlabBox, legendBox, sideTitle, currentTags);

// ---------------- top left: identification ----------------
new Chart(document.getElementById('idChart'), {
  type: 'line',
  data: {datasets: [
    line(zip(idTime, idVoltage), '#0000ff', 5, {label: idLegend[0], yAxisID: 'y', order: 1, cubicInterpolationMode: 'monotone'}),
    line(zip(idCurrentTime, idCurrent), '#ff0000', 3.5, {label: idLegend[1], yAxisID: 'y2', order: 0, borderDash: [14, 9]})
  ]},
  options: {
    responsive: false,
    layout: {padding: {top: 34, left: 0, right: 0, bottom: 0}},
    scales: {
      x: axis({position: 'bottom', min: 0, max: 3400, ticks: idTimeTicks, size: 148, pad: 16, fontSize: 42,
               title: 'Time (s)', titleSize: 47, titlePad: {top: 0, bottom: 24}}),
      y: axis({position: 'left', min: 1.4, max: 4.6, ticks: idVoltTicks, size: 163, pad: 14, fontSize: 42, color: '#0000ff',
               title: 'Voltage (V)', titleColor: '#0000ff', titleSize: 49, titlePad: {top: 36, bottom: 0}}),
      y2: axis({position: 'right', min: -3.1, max: 0.1, ticks: idCurrTicks, size: 180, pad: 13, fontSize: 42, color: '#ff0000'})
    },
    plugins: {
      legend: {display: false}, tooltip: {enabled: false},
      matlabBox: {lineWidth: 2.5, tickLen: 8, color: INK, leftColor: '#0000ff', rightColor: '#ff0000', rightScale: 'y2'},
      legendBox: {x: 598, y: 96, rowHeight: 49, lineLength: 74, gap: 7, font: '40px ' + SERIF, color: INK,
                  items: [{ds: 0, text: idLegend[0]}, {ds: 1, text: idLegend[1]}]},
      sideTitle: {text: 'Current (A)', x: 998, y: 283, font: '49px ' + SERIF, color: '#ff0000'}
    }
  }
});

// ---------------- top right: fitted model ----------------
new Chart(document.getElementById('fitChart'), {
  type: 'line',
  data: {datasets: [
    line(zip(fitTime, fitTrue), '#ff0000', 4, {label: voltLegend[0], order: 1, cubicInterpolationMode: 'monotone'}),
    line(zip(fitTime, fitPred), '#0000ff', 4, {label: voltLegend[1], order: 0, borderDash: [14, 9], cubicInterpolationMode: 'monotone'})
  ]},
  options: {
    responsive: false,
    layout: {padding: {top: 36, left: 0, right: 25, bottom: 0}},
    scales: {
      x: axis({position: 'bottom', min: 0, max: 3400, ticks: idTimeTicks, size: 154, pad: 13, fontSize: 40,
               title: 'Time (s)', titleSize: 44, titlePad: {top: 0, bottom: 40}}),
      y: axis({position: 'left', min: 2.4, max: 4.2, ticks: fitVoltTicks, size: 175, pad: 13, fontSize: 40,
               title: 'Voltage (V)', titleSize: 45, titlePad: {top: 57, bottom: 0}})
    },
    plugins: {
      legend: {display: false}, tooltip: {enabled: false},
      matlabBox: {lineWidth: 2.5, tickLen: 8, color: INK},
      legendBox: {x: 364, y: 102, rowHeight: 44, lineLength: 67, gap: 9, font: '36px ' + SERIF, color: INK,
                  items: [{ds: 0, text: voltLegend[0]}, {ds: 1, text: voltLegend[1]}]}
    }
  }
});

// ---------------- middle: constant current ----------------
const ccDash = [17, 11];
const mono = {cubicInterpolationMode: 'monotone'};
new Chart(document.getElementById('ccChart'), {
  type: 'line',
  data: {datasets: [
    line(xy(cc2ATrue), '#f08080', 3.5, Object.assign({label: ccLabels[0]}, mono)),
    line(xy(cc2APred), '#87cefa', 3.5, Object.assign({label: ccLabels[0], borderDash: ccDash}, mono)),
    line(xy(cc25True), '#cd5c5c', 3.5, Object.assign({label: ccLabels[1]}, mono)),
    line(xy(cc25Pred), '#1e90ff', 3.5, Object.assign({label: ccLabels[1], borderDash: ccDash}, mono)),
    line(xy(cc35True), '#ff0000', 3.5, Object.assign({label: ccLabels[2]}, mono)),
    line(xy(cc35Pred), '#0000ff', 3.5, Object.assign({label: ccLabels[2], borderDash: ccDash}, mono)),
    line(xy(cc4True), '#a52a2a', 3.5, Object.assign({label: ccLabels[3]}, mono)),
    line(xy(cc4Pred), '#0000cd', 3.5, Object.assign({label: ccLabels[3], borderDash: ccDash}, mono)),
    line(xy(cc45True), '#8b0000', 3.5, Object.assign({label: ccLabels[4]}, mono)),
    line(xy(cc45Pred), '#000080', 3.5, Object.assign({label: ccLabels[4], borderDash: ccDash}, mono))
  ]},
  options: {
    responsive: false,
    layout: {padding: {top: 42, left: 0, right: 32, bottom: 0}},
    scales: {
      x: axis({position: 'bottom', min: 0, max: 5110, ticks: ccTimeTicks, size: 153, pad: 18, fontSize: 50,
               title: 'Time (s)', titleSize: 56, titlePad: {top: 0, bottom: 9}}),
      y: axis({position: 'left', min: 2.3, max: 4.2, ticks: ccVoltTicks, size: 174.5, pad: 17, fontSize: 50,
               title: 'Voltage (V)', titleSize: 58, titlePad: {top: 22, bottom: 0}})
    },
    plugins: {
      legend: {display: false}, tooltip: {enabled: false},
      matlabBox: {lineWidth: 2.5, tickLen: 10, color: INK},
      legendBox: {x: 444, y: 106, rowHeight: 57, lineLength: 84, gap: 10, font: '46px ' + SERIF, color: '#000',
                  items: [{ds: 0, text: voltLegend[0]}, {ds: 1, text: voltLegend[1]}]},
      currentTags: {font: '45px ' + SERIF, color: '#000', lineWidth: 3, head: 30, half: 11, gap: 2,
                    items: [
                      {label: ccLabels[0], v: 2.675, tail: 4620, tip: 5025},
                      {label: ccLabels[1], v: 2.667, tail: 3595, tip: 4025},
                      {label: ccLabels[2], v: 2.945, tail: 2950, tip: 2505, gap: 10},
                      {label: ccLabels[3], v: 2.945, tail: 1530, tip: 2095},
                      {label: ccLabels[4], v: 2.656, tail: 1685, tip: 2112}
                    ]}
    }
  }
});

// ---------------- bottom: variable current ----------------
new Chart(document.getElementById('dynCurrentChart'), {
  type: 'line',
  data: {datasets: [line(xy(dynCurrent), '#0000ff', 2.5, {label: 'Current'})]},
  options: {
    responsive: false,
    layout: {padding: {top: 28.4, left: 0, right: 14.3, bottom: 0}},
    scales: {
      x: axis({position: 'bottom', min: 0, max: 3600, ticks: dynTimeTicks, size: 74.8, pad: 18.6, fontSize: 52}),
      y: axis({position: 'left', min: -3.585, max: -2.2, ticks: dynCurrTicks, size: 194.7, pad: 15, fontSize: 52,
               title: 'Current (A)', titleSize: 60, titlePad: {top: 20, bottom: 0}})
    },
    plugins: {
      legend: {display: false}, tooltip: {enabled: false},
      matlabBox: {lineWidth: 3, tickLen: 18, color: INK}
    }
  }
});

new Chart(document.getElementById('dynVoltChart'), {
  type: 'line',
  data: {datasets: [
    line(zip(dynVoltTime, dynVoltTrue), '#ff0000', 3, {label: voltLegend[0], order: 1}),
    line(zip(dynVoltTime, dynVoltPred), '#0000ff', 3, {label: voltLegend[1], order: 0})
  ]},
  options: {
    responsive: false,
    layout: {padding: {top: 18, left: 0, right: 14.3, bottom: 0}},
    scales: {
      x: axis({position: 'bottom', min: 0, max: 3600, ticks: dynTimeTicks, size: 175.4, pad: 17, fontSize: 52,
               title: 'Time (s)', titleSize: 60, titlePad: {top: 0, bottom: 25}}),
      y: axis({position: 'left', min: 2.4, max: 4.2, ticks: dynVoltTicks, size: 194.7, pad: 17, fontSize: 52,
               title: 'Voltage (V)', titleSize: 61, titlePad: {top: 39, bottom: 0}})
    },
    plugins: {
      legend: {display: false}, tooltip: {enabled: false},
      matlabBox: {lineWidth: 3, tickLen: 18, color: INK},
      legendBox: {x: 1300, y: 68, rowHeight: 57, lineLength: 51, gap: 6, font: '49px ' + SERIF, color: '#000',
                  items: [{ds: 0, text: voltLegend[0]}, {ds: 1, text: voltLegend[1]}]}
    }
  }
});
</script>
</body>
</html>
